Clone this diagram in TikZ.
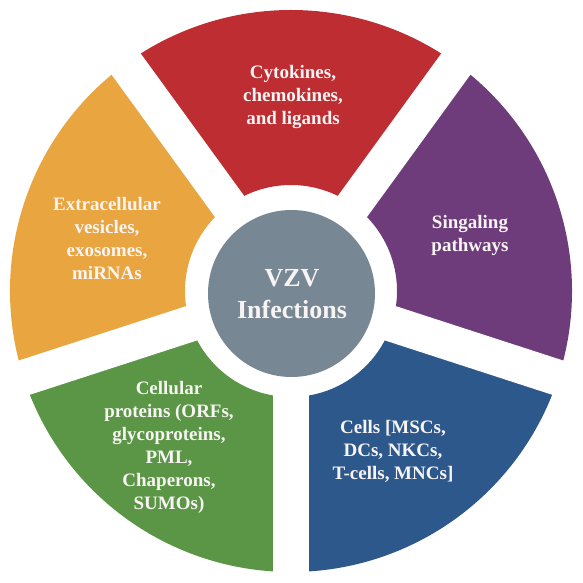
\documentclass[tikz,border=0pt]{standalone}
\usepackage{fontspec}
\setmainfont{Liberation Serif}
\definecolor{cred}{RGB}{190,45,50}
\definecolor{cpurple}{RGB}{110,60,122}
\definecolor{cblue}{RGB}{45,88,140}
\definecolor{cgreen}{RGB}{90,150,70}
\definecolor{corange}{RGB}{232,165,64}
\definecolor{cgray}{RGB}{120,135,148}
\definecolor{ctext}{RGB}{248,244,244}
\begin{document}
\begin{tikzpicture}[x=1pt,y=1pt,
  lbl/.style={text=ctext, font=\fontsize{19}{23}\selectfont\bfseries, align=center, inner sep=0pt},
  hublbl/.style={text=ctext, font=\fontsize{26}{32}\selectfont\bfseries, align=center, inner sep=0pt},
  gapstrip/.style={white, line width=36pt}]
\useasboundingbox (0,0) rectangle (583,583);
\begin{scope}[shift={(291,292)}]
  % sectors
  \fill[cred]    (54:281)  arc[start angle=54,  end angle=126, radius=281] -- (126:106) arc[start angle=126, end angle=54,  radius=106] -- cycle;
  \fill[corange] (126:281) arc[start angle=126, end angle=198, radius=281] -- (198:106) arc[start angle=198, end angle=126, radius=106] -- cycle;
  \fill[cgreen]  (198:281) arc[start angle=198, end angle=270, radius=281] -- (270:106) arc[start angle=270, end angle=198, radius=106] -- cycle;
  \fill[cblue]   (270:281) arc[start angle=270, end angle=342, radius=281] -- (342:106) arc[start angle=342, end angle=270, radius=106] -- cycle;
  \fill[cpurple] (-18:281) arc[start angle=-18, end angle=54,  radius=281] -- (54:106)  arc[start angle=54,  end angle=-18, radius=106] -- cycle;
  % gaps
  \foreach \a in {54,126,198,270,342} \draw[gapstrip] (0,0) -- (\a:300);
  % hub
  \node[circle, fill=cgray, minimum size=167pt, inner sep=0pt] (hub) at (0.5,-2.5) {};
\end{scope}
\node[hublbl] (hubtext) at (292,289) {VZV\\Infections};
\node[lbl] (cyto) at (293,485.5) {Cytokines,\\chemokines,\\and ligands};
\node[lbl] (extra) at (107,344) {Extracellular\\vesicles,\\exosomes,\\miRNAs};
\node[lbl] (signal) at (470,348) {Singaling\\pathways};
\node[lbl] (prot) at (169,136) {Cellular\\proteins (ORFs,\\glycoproteins,\\PML,\\Chaperons,\\SUMOs)};
\node[lbl] (cells) at (393,132) {Cells [MSCs,\\DCs, NKCs,\\T-cells, MNCs]};
\end{tikzpicture}
\end{document}
